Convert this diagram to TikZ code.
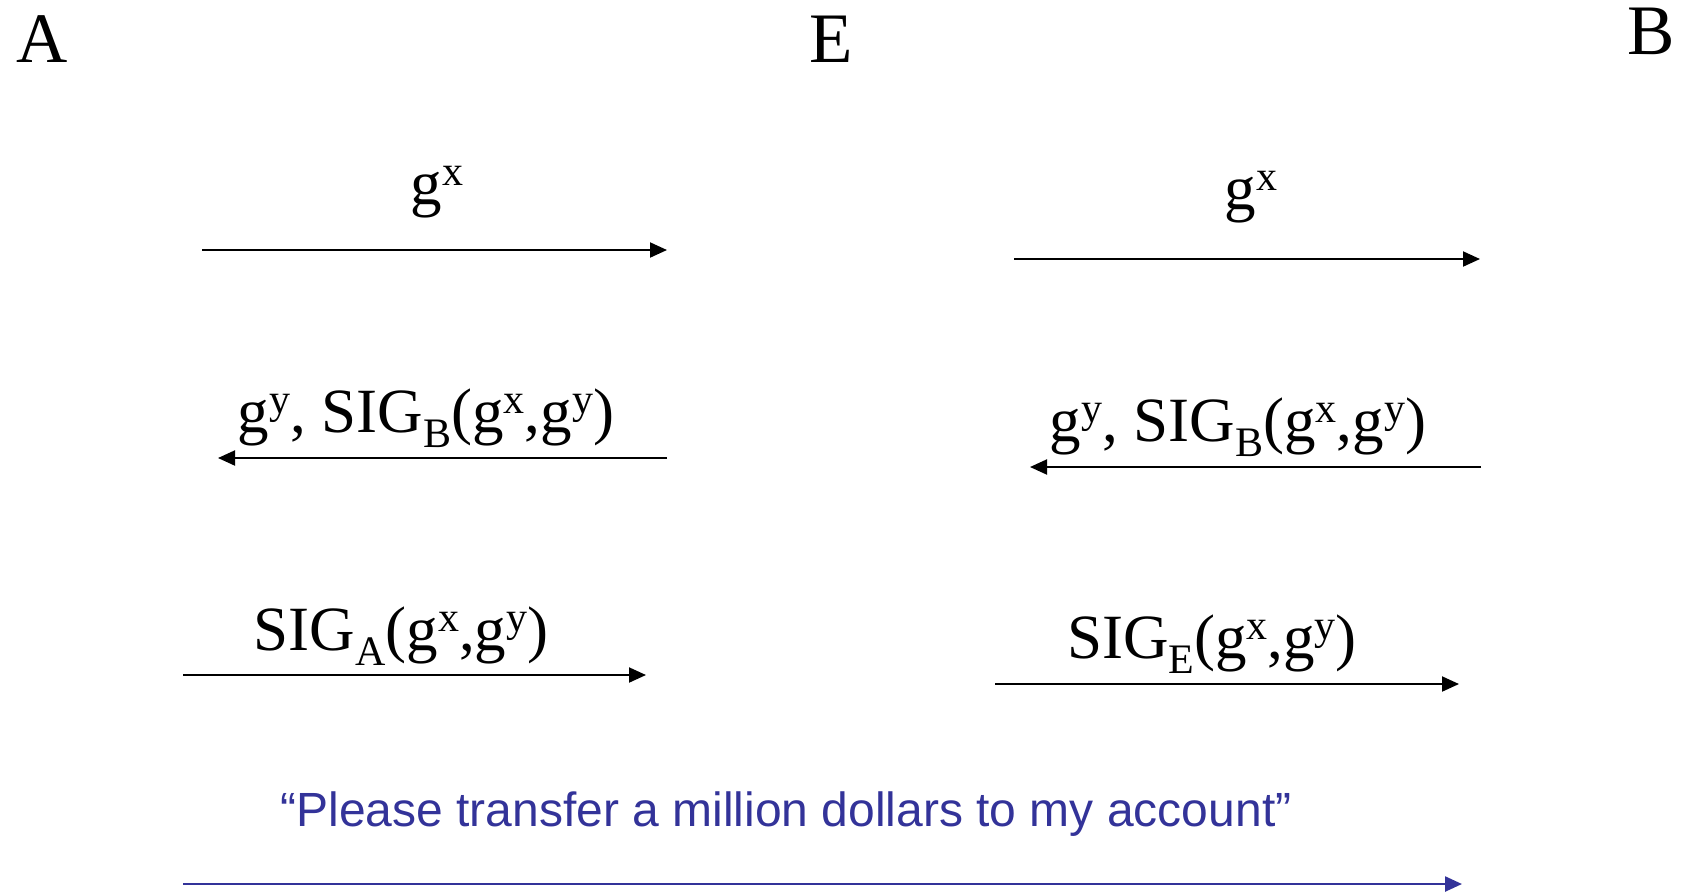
\documentclass[tikz,border=0pt]{standalone}
\usepackage{fontspec}
\setmainfont{Liberation Serif}
\setsansfont{Liberation Sans}
\usepackage{xcolor}
\usepackage{tikz}
\usetikzlibrary{arrows.meta}
\definecolor{msgblue}{HTML}{333399}
\newcommand{\upidx}[1]{\raisebox{0.3em}{\fontsize{21pt}{21pt}\selectfont #1}}
\newcommand{\dnidx}[1]{\raisebox{-0.24em}{\fontsize{21pt}{21pt}\selectfont #1}}
\tikzset{
    party/.style={anchor=base west, inner sep=0pt, font=\fontsize{35.5pt}{40pt}\selectfont},
    msg/.style={anchor=base, inner sep=0pt, font=\fontsize{31.5pt}{36pt}\selectfont},
    note/.style={anchor=base, inner sep=0pt, text=msgblue, font=\sffamily\fontsize{24pt}{28pt}\selectfont},
    flow/.style={line width=1pt, -{Triangle[length=8.5pt, width=7.5pt]}},
    flowblue/.style={flow, draw=msgblue, line width=1.2pt}
}

\begin{document}
\begin{tikzpicture}[x=0.5pt, y=-0.5pt]
    \useasboundingbox (0,0) rectangle (1686,891);

    \node[party] (alice) at (16,62) {A};
    \node[party] (eve) at (809,62) {E};
    \node[party] (bob) at (1627,54) {B};

    % A <-> E
    \node[msg] (ae1) at (437,204) {g\upidx{x}};
    \coordinate (ae1s) at (202,250);
    \coordinate (ae1e) at (667,250);
    \draw[flow] (ae1s) -- (ae1e);

    \node[msg] (ae2) at (426,432) {g\upidx{y}, SIG\dnidx{B}(g\upidx{x},g\upidx{y})};
    \coordinate (ae2s) at (667,458);
    \coordinate (ae2e) at (218,458);
    \draw[flow] (ae2s) -- (ae2e);

    \node[msg] (ae3) at (401,650) {SIG\dnidx{A}(g\upidx{x},g\upidx{y})};
    \coordinate (ae3s) at (183,675);
    \coordinate (ae3e) at (646,675);
    \draw[flow] (ae3s) -- (ae3e);

    % E <-> B
    \node[msg] (eb1) at (1251,209) {g\upidx{x}};
    \coordinate (eb1s) at (1014,259);
    \coordinate (eb1e) at (1480,259);
    \draw[flow] (eb1s) -- (eb1e);

    \node[msg] (eb2) at (1238,441) {g\upidx{y}, SIG\dnidx{B}(g\upidx{x},g\upidx{y})};
    \coordinate (eb2s) at (1481,467);
    \coordinate (eb2e) at (1030,467);
    \draw[flow] (eb2s) -- (eb2e);

    \node[msg] (eb3) at (1212,658) {SIG\dnidx{E}(g\upidx{x},g\upidx{y})};
    \coordinate (eb3s) at (995,684);
    \coordinate (eb3e) at (1459,684);
    \draw[flow] (eb3s) -- (eb3e);

    % A -> B
    \node[note] (req) at (786,826) {“Please transfer a million dollars to my account”};
    \coordinate (reqs) at (183,884);
    \coordinate (reqe) at (1462,884);
    \draw[flowblue] (reqs) -- (reqe);
\end{tikzpicture}
\end{document}
